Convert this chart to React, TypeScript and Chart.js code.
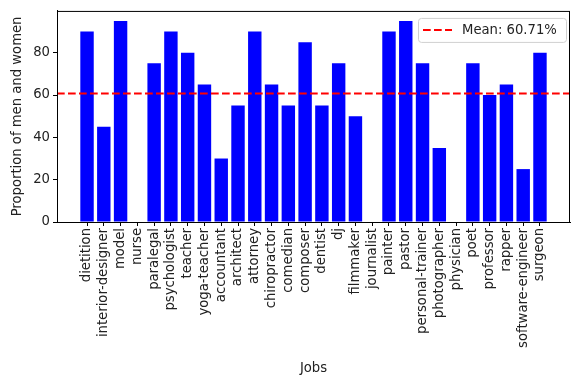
import React, { useEffect, useRef } from "react";
import { Chart, registerables } from "chart.js";

Chart.register(...registerables);

const jobs = [
  "dietition", "interior-designer", "model", "nurse", "paralegal", "psychologist",
  "teacher", "yoga-teacher", "accountant", "architect", "attorney", "chiropractor",
  "comedian", "composer", "dentist", "dj", "filmmaker", "journalist", "painter",
  "pastor", "personal-trainer", "photographer", "physician", "poet", "professor",
  "rapper", "software-engineer", "surgeon",
];

const proportions = [
  90, 45, 95, 0, 75, 90, 80, 65, 30, 55, 90, 65, 55, 85, 55, 75, 50, 0, 90, 95,
  75, 35, 0, 75, 60, 65, 25, 80,
];

const yTicks = [0, 20, 40, 60, 80];

const mean = proportions.reduce((a, b) => a + b, 0) / proportions.length;
const meanLabel = `Mean: ${mean.toFixed(2)}%`;

const FONT = "'DejaVu Sans', sans-serif";
const FONT_SIZE = 13.2;
const DASH = [7.7, 3.3];

// x range with 5% margin around the bars (bar width 0.8)
const span = proportions.length - 1 + 0.8;
const xMin = -0.4 - 0.05 * span;
const xMax = proportions.length - 1 + 0.4 + 0.05 * span;
const yMax = Math.max(...proportions) * 1.05;

const framePlugin = {
  id: "frame",
  afterDraw(chart: any) {
    const { ctx, chartArea: a } = chart;
    ctx.save();
    ctx.strokeStyle = "#000";
    ctx.lineWidth = 1;
    ctx.strokeRect(a.left + 0.5, a.top + 0.5, a.right - a.left - 1, a.bottom - a.top);

    // legend box, upper right
    const bw = 148, bh = 24;
    const bx = a.right - 152, by = a.top + 7;
    ctx.beginPath();
    ctx.roundRect(bx + 0.5, by + 0.5, bw, bh, 3);
    ctx.fillStyle = "rgba(255,255,255,0.8)";
    ctx.fill();
    ctx.strokeStyle = "#d0d0d0";
    ctx.stroke();

    ctx.beginPath();
    ctx.setLineDash(DASH);
    ctx.strokeStyle = "red";
    ctx.lineWidth = 2;
    ctx.moveTo(bx + 5, by + 12);
    ctx.lineTo(bx + 34, by + 12);
    ctx.stroke();
    ctx.setLineDash([]);

    ctx.fillStyle = "#222";
    ctx.font = `${FONT_SIZE}px ${FONT}`;
    ctx.textBaseline = "middle";
    ctx.textAlign = "left";
    ctx.fillText(meanLabel, bx + 44, by + 12.5);
    ctx.restore();
  },
};

export default function App() {
  const ref = useRef<HTMLCanvasElement>(null);

  useEffect(() => {
    document.body.style.margin = "0";
    const chart = new Chart(ref.current!, {
      type: "bar",
      data: {
        datasets: [
          {
            type: "line",
            label: meanLabel,
            data: [
              { x: xMin, y: mean },
              { x: xMax, y: mean },
            ],
            borderColor: "red",
            borderWidth: 2,
            borderDash: DASH,
            pointRadius: 0,
            order: 0,
          },
          {
            type: "bar",
            label: "Proportion",
            data: proportions.map((v, i) => ({ x: i, y: v })),
            backgroundColor: "#0000ff",
            borderWidth: 0,
            barPercentage: 0.8,
            categoryPercentage: 1,
            order: 1,
          },
        ] as any,
      },
      options: {
        animation: false,
        responsive: false,
        layout: { padding: { top: 10, right: 1, left: 0, bottom: 0 } },
        plugins: { legend: { display: false }, tooltip: { enabled: false } },
        scales: {
          x: {
            type: "linear",
            min: xMin,
            max: xMax,
            offset: false,
            afterBuildTicks(scale: any) {
              scale.ticks = jobs.map((_, i) => ({ value: i }));
            },
            afterFit(scale: any) {
              scale.height = 156;
            },
            ticks: {
              autoSkip: false,
              maxRotation: 90,
              minRotation: 90,
              padding: 2,
              color: "#222",
              font: { family: FONT, size: FONT_SIZE },
              callback: (v: any) => jobs[v as number] ?? "",
            },
            grid: {
              offset: false,
              drawOnChartArea: false,
              drawTicks: true,
              tickLength: 4,
              color: "#000",
            },
            border: { color: "#000", width: 1 },
            title: {
              display: true,
              text: "Jobs",
              color: "#222",
              font: { family: FONT, size: FONT_SIZE },
              padding: { top: 0, bottom: 2 },
            },
          },
          y: {
            type: "linear",
            min: 0,
            max: yMax,
            afterBuildTicks(scale: any) {
              scale.ticks = yTicks.map((v) => ({ value: v }));
            },
            afterFit(scale: any) {
              scale.width = 57;
            },
            ticks: {
              padding: 3,
              color: "#222",
              font: { family: FONT, size: FONT_SIZE },
            },
            grid: {
              drawOnChartArea: false,
              drawTicks: true,
              tickLength: 4,
              color: "#000",
            },
            border: { color: "#000", width: 1 },
            title: {
              display: true,
              text: "Proportion of men and women",
              color: "#222",
              font: { family: FONT, size: FONT_SIZE },
              padding: { top: 10, bottom: 0 },
            },
          },
        },
      },
      plugins: [framePlugin],
    });
    return () => chart.destroy();
  }, []);

  return (
    <div style={{ position: "absolute", left: 0, top: 0, width: 571, height: 378 }}>
      <canvas ref={ref} width={571} height={378} style={{ width: 571, height: 378 }} />
    </div>
  );
}
